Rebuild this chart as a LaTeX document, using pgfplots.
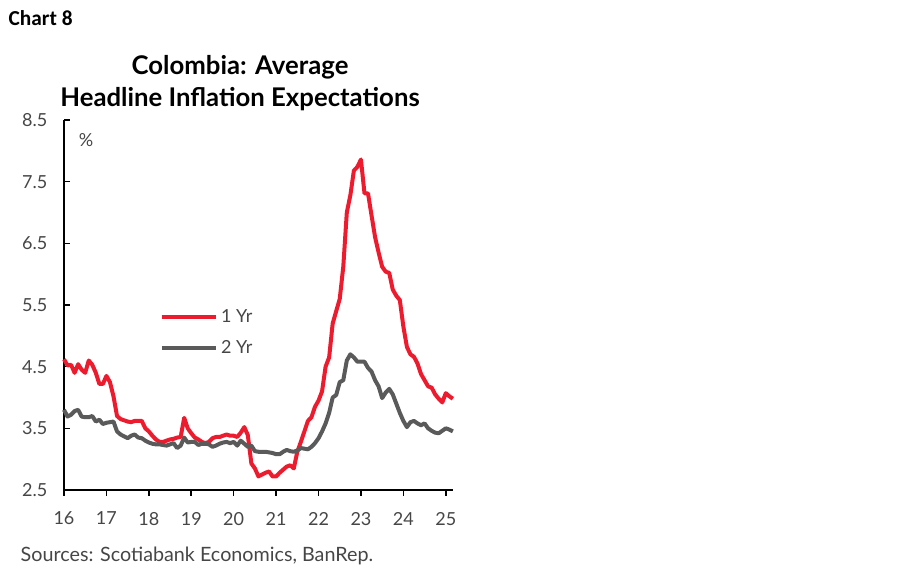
\documentclass[border=0pt]{standalone}
\usepackage{fontspec}
\setmainfont{Lato}
\newfontfamily\carlito{Carlito}
\usepackage{pgfplots}
\usepackage{pgfplotstable}
\pgfplotsset{compat=1.18}
\definecolor{sred}{RGB}{236,28,46}
\definecolor{sgray}{RGB}{90,90,90}
\definecolor{labgray}{RGB}{70,70,70}
\pgfplotstableread{
v
4.62
4.52
4.53
4.40
4.54
4.45
4.40
4.60
4.53
4.40
4.22
4.22
4.35
4.25
4.02
3.70
3.65
3.63
3.61
3.60
3.62
3.62
3.62
3.50
3.45
3.38
3.32
3.28
3.28
3.30
3.32
3.33
3.35
3.36
3.67
3.50
3.42
3.35
3.32
3.28
3.26
3.28
3.34
3.36
3.36
3.38
3.40
3.38
3.38
3.36
3.43
3.52
3.39
2.93
2.85
2.72
2.75
2.78
2.80
2.72
2.72
2.78
2.83
2.88
2.90
2.85
3.12
3.28
3.45
3.62
3.68
3.85
3.95
4.10
4.50
4.65
5.20
5.40
5.60
6.12
7.00
7.28
7.68
7.74
7.86
7.31
7.31
6.95
6.60
6.35
6.12
6.04
6.02
5.75
5.65
5.58
5.15
4.82
4.70
4.66
4.55
4.38
4.28
4.18
4.16
4.05
3.98
3.92
4.07
4.02
3.98
}\oneyr
\pgfplotstableread{
v
3.80
3.69
3.72
3.78
3.80
3.69
3.68
3.68
3.70
3.61
3.64
3.57
3.59
3.60
3.61
3.45
3.40
3.37
3.34
3.38
3.40
3.35
3.34
3.30
3.27
3.25
3.24
3.24
3.23
3.22
3.24
3.26
3.18
3.22
3.35
3.27
3.28
3.28
3.23
3.25
3.25
3.24
3.20
3.22
3.25
3.27
3.28
3.26
3.28
3.22
3.30
3.25
3.20
3.22
3.13
3.12
3.12
3.12
3.11
3.10
3.08
3.08
3.12
3.15
3.13
3.12
3.14
3.18
3.17
3.16
3.20
3.26
3.34
3.45
3.58
3.75
4.00
4.04
4.25
4.28
4.60
4.70
4.65
4.58
4.58
4.58
4.48
4.42
4.28
4.18
3.99
4.08
4.14
4.05
3.90
3.75
3.62
3.52
3.60
3.62
3.58
3.55
3.58
3.50
3.46
3.43
3.42
3.46
3.50
3.48
3.45
}\twoyr
\begin{document}
\begin{tikzpicture}
\path (0,0) rectangle (675pt,434.25pt);
\node[anchor=west,font=\carlito\bfseries\fontsize{16pt}{18pt}\selectfont] at (3pt,420.75pt) {Chart 8};
\node[align=center,font=\bfseries\fontsize{19.3pt}{24pt}\selectfont] at (180pt,372pt) {Colombia: Average\\Headline Inflation Expectations};
\node[anchor=west,text=labgray,font=\fontsize{14.8pt}{17pt}\selectfont] at (12pt,17.25pt) {Sources: Scotiabank Economics, BanRep.};
\begin{axis}[
  at={(48pt,66.75pt)}, anchor=south west,
  scale only axis, width=291.75pt, height=277.5pt,
  xmin=16, xmax=25.17, ymin=2.5, ymax=8.5,
  axis x line=bottom, axis y line=left,
  axis line style={black, line width=1.2pt, -},
  xtick={16,17,...,25}, ytick={2.5,3.5,...,8.5},
  xticklabels={16,17,18,19,20,21,22,23,24,25},
  yticklabels={2.5,3.5,4.5,5.5,6.5,7.5,8.5},
  tick label style={text=labgray, font=\fontsize{13.5pt}{15pt}\selectfont},
  tick align=inside,
  major tick length=4.5pt,
  tick style={black, line width=1.2pt},
  xtick style={/pgfplots/major tick length=-4.5pt},
  xticklabel style={yshift=-13pt},
  yticklabel style={xshift=-9pt},
  clip=false,
  legend style={at={(axis cs:18.25,5.48)}, anchor=north west, draw=none, fill=none,
    font=\fontsize{13.5pt}{15pt}\selectfont, text=labgray, row sep=8pt,
    legend cell align=left, inner sep=0pt},
  legend image code/.code={\draw[#1, line width=3pt] (0pt,0pt) -- (41pt,0pt);},
]
\addplot[sred, line width=3pt, line join=round] table[x expr=16+\coordindex/12, y=v] {\oneyr};
\addlegendentry{1 Yr}
\addplot[sgray, line width=3pt, line join=round] table[x expr=16+\coordindex/12, y=v] {\twoyr};
\addlegendentry{2 Yr}
\node[text=labgray, font=\fontsize{13.5pt}{15pt}\selectfont] at (axis cs:16.52,8.18) {\%};
\end{axis}
\end{tikzpicture}
\end{document}
